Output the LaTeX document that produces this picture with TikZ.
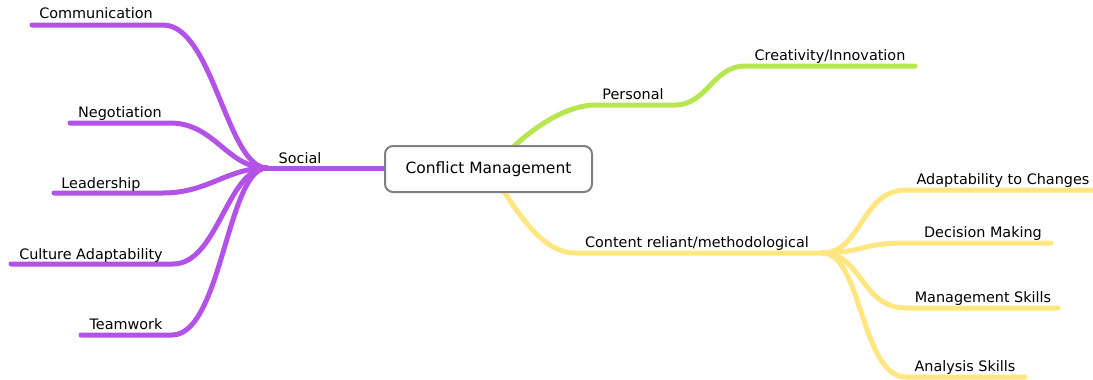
\documentclass[tikz,border=0pt]{standalone}
\usepackage{fontspec}
\setmainfont{DejaVu Sans}
\usetikzlibrary{calc}
\definecolor{cpurple}{HTML}{B252E6}
\definecolor{cgreen}{HTML}{B6E650}
\definecolor{cyellow}{HTML}{FFE680}
\definecolor{cgray}{HTML}{808080}
\tikzset{
  branch/.style={line width=5pt, line cap=round},
  lbl/.style={font=\fontsize{14.4}{16}\selectfont, inner sep=0pt, anchor=base},
  centre/.style={draw=cgray, line width=2pt, fill=white, rounded corners=8pt,
    minimum width=207pt, minimum height=46pt, inner sep=0pt,
    font=\fontsize{15.5}{18}\selectfont}
}
\begin{document}
\begin{tikzpicture}[x=1pt,y=-1pt]
\useasboundingbox (0,0) rectangle (1093,380);
% hubs
\coordinate (H) at (267,168);
\coordinate (Y) at (822,253);
% purple branch ends
\coordinate (c0) at (32,25);  \coordinate (c1) at (163,25);
\coordinate (n0) at (70,123); \coordinate (n1) at (170,123);
\coordinate (l0) at (54,193); \coordinate (l1) at (163,193);
\coordinate (u0) at (11,264); \coordinate (u1) at (173,264);
\coordinate (t0) at (81,335); \coordinate (t1) at (172,335);
\coordinate (sE) at (400,168);
% green
\coordinate (g0) at (512,148);
\coordinate (p0) at (596,105); \coordinate (p1) at (675,105);
\coordinate (r0) at (745,66);  \coordinate (r1) at (915,66);
% yellow
\coordinate (y0) at (503,190);
\coordinate (m0) at (576,253);
\coordinate (a0) at (906,190); \coordinate (a1) at (1100,190);
\coordinate (d0) at (906,243); \coordinate (d1) at (1051,243);
\coordinate (s0) at (906,308); \coordinate (s1) at (1058,308);
\coordinate (k0) at (906,377); \coordinate (k1) at (1025,377);

% purple
\draw[branch, cpurple] (c0) -- (c1) .. controls ($(c1)+(50,0)$) and ($(H)+(-40,0)$) .. (H);
\draw[branch, cpurple] (n0) -- (n1) .. controls ($(n1)+(45,0)$) and ($(H)+(-40,0)$) .. (H);
\draw[branch, cpurple] (l0) -- (l1) .. controls ($(l1)+(45,0)$) and ($(H)+(-40,0)$) .. (H);
\draw[branch, cpurple] (u0) -- (u1) .. controls ($(u1)+(45,0)$) and ($(H)+(-40,0)$) .. (H);
\draw[branch, cpurple] (t0) -- (t1) .. controls ($(t1)+(50,0)$) and ($(H)+(-40,0)$) .. (H);
\draw[branch, cpurple] (H) -- (sE);
% green
\draw[branch, cgreen] (g0) .. controls (540,122) and (570,105) .. (p0) -- (p1)
  .. controls ($(p1)+(32,0)$) and ($(r0)+(-32,0)$) .. (r0) -- (r1);
% yellow
\draw[branch, cyellow] (y0) .. controls (530,232) and (550,253) .. (m0) -- (Y);
\draw[branch, cyellow] (Y) .. controls ($(Y)+(40,0)$) and ($(a0)+(-45,0)$) .. (a0) -- (a1);
\draw[branch, cyellow] (Y) .. controls ($(Y)+(40,0)$) and ($(d0)+(-45,0)$) .. (d0) -- (d1);
\draw[branch, cyellow] (Y) .. controls ($(Y)+(40,0)$) and ($(s0)+(-45,0)$) .. (s0) -- (s1);
\draw[branch, cyellow] (Y) .. controls ($(Y)+(40,0)$) and ($(k0)+(-45,0)$) .. (k0) -- (k1);

% centre
\node[centre] (cm) at (488.5,169) {Conflict Management};

% labels
\node[lbl] (lcomm) at (96,19) {Communication};
\node[lbl] (lneg) at (120,117) {Negotiation};
\node[lbl] (llead) at (101,188) {Leadership};
\node[lbl] (lsoc) at (300,163) {Social};
\node[lbl] (lcult) at (91,259) {Culture Adaptability};
\node[lbl] (lteam) at (126,329) {Teamwork};
\node[lbl] (lpers) at (633,99) {Personal};
\node[lbl] (lcrea) at (830,60) {Creativity/Innovation};
\node[lbl] (lcont) at (697,247) {Content reliant/methodological};
\node[lbl] (ladap) at (1003,184) {Adaptability to Changes};
\node[lbl] (ldec) at (983,237) {Decision Making};
\node[lbl] (lman) at (983,302) {Management Skills};
\node[lbl] (lana) at (965,371) {Analysis Skills};
\end{tikzpicture}
\end{document}
